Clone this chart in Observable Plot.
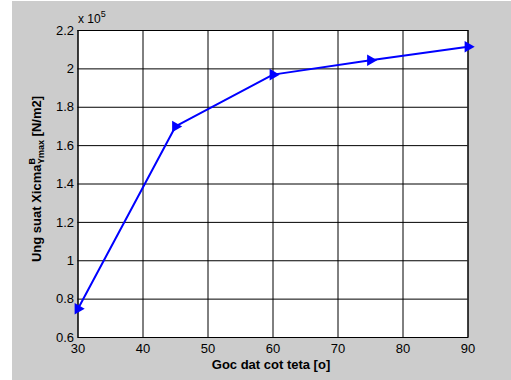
<!DOCTYPE html>
<html>
<head>
<meta charset="utf-8">
<script src="https://cdn.jsdelivr.net/npm/d3@7"></script>
<script src="https://cdn.jsdelivr.net/npm/@observablehq/plot@0.6"></script>
<style>
  html, body { margin: 0; padding: 0; background: #ffffff; }
  #fig { position: absolute; left: 12px; top: 1px; width: 499px; height: 379px; background: #cccccc; }
  #fig svg { display: block; background: transparent; }
</style>
</head>
<body>
<div id="fig"></div>
<script>
// Mounting angle (degrees) and peak stress (N/m2)
const angle = [30, 45, 60, 75, 90];
const stress = [75000, 170000, 197000, 204500, 211500];

// Tick values
const xTicks = [30, 40, 50, 60, 70, 80, 90];
const yTicks = [60000, 80000, 100000, 120000, 140000, 160000, 180000, 200000, 220000];

const rows = angle.map((a, i) => ({angle: a, stress: stress[i]}));
const font = "Liberation Sans, Arial, Helvetica, sans-serif";

const chart = Plot.plot({
  width: 499,
  height: 379,
  marginLeft: 65.5,
  marginTop: 29,
  marginRight: 43.5,
  marginBottom: 43,
  style: {fontFamily: font, fontSize: "13px", color: "black", background: "transparent"},
  x: {domain: [30, 90]},
  y: {domain: [60000, 220000]},
  marks: [
    Plot.frame({fill: "white", stroke: null}),
    Plot.gridX(xTicks, {stroke: "black", strokeOpacity: 1, strokeWidth: 1}),
    Plot.gridY(yTicks, {stroke: "black", strokeOpacity: 1, strokeWidth: 1}),
    Plot.frame({stroke: "black", strokeWidth: 1}),
    Plot.axisX(xTicks, {tickSize: 0, tickPadding: 6, fontSize: 13, label: null}),
    Plot.axisY(yTicks, {tickSize: 0, tickPadding: 4, fontSize: 13, label: null,
      tickFormat: d => String(+(d / 1e5).toFixed(1))}),
    Plot.line(rows, {x: "angle", y: "stress", stroke: "#0000ff", strokeWidth: 2}),
    Plot.dot(rows, {x: "angle", y: "stress", symbol: "triangle", rotate: 90, r: 4.3,
      fill: "#0000ff", stroke: null})
  ]
});

document.getElementById("fig").appendChild(chart);

const svg = d3.select(chart);

// Exponent above the y axis
const expo = svg.append("text")
  .attr("x", 66).attr("y", 22)
  .attr("text-anchor", "start")
  .attr("font-family", font).attr("font-size", 12).attr("fill", "black");
expo.append("tspan").text("x 10");
expo.append("tspan").attr("font-size", 9).attr("dy", -6).text("5");

// x-axis title
svg.append("text")
  .attr("x", 259).attr("y", 368)
  .attr("text-anchor", "middle")
  .attr("font-family", font).attr("font-size", 13).attr("font-weight", "bold")
  .attr("fill", "black")
  .text("Goc dat cot teta [o]");

// y-axis title with superscript and subscript
const yl = svg.append("text")
  .attr("transform", "translate(29,178) rotate(-90)")
  .attr("text-anchor", "middle")
  .attr("font-family", font).attr("font-size", 13).attr("font-weight", "bold")
  .attr("fill", "black");
yl.append("tspan").text("Ung suat Xicma");
yl.append("tspan").attr("font-size", 9).attr("dy", -6).text("B");
yl.append("tspan").attr("font-size", 9).attr("dx", -6).attr("dy", 9).text("Ymax");
yl.append("tspan").attr("dy", -3).text(" [N/m2]");
</script>
</body>
</html>
